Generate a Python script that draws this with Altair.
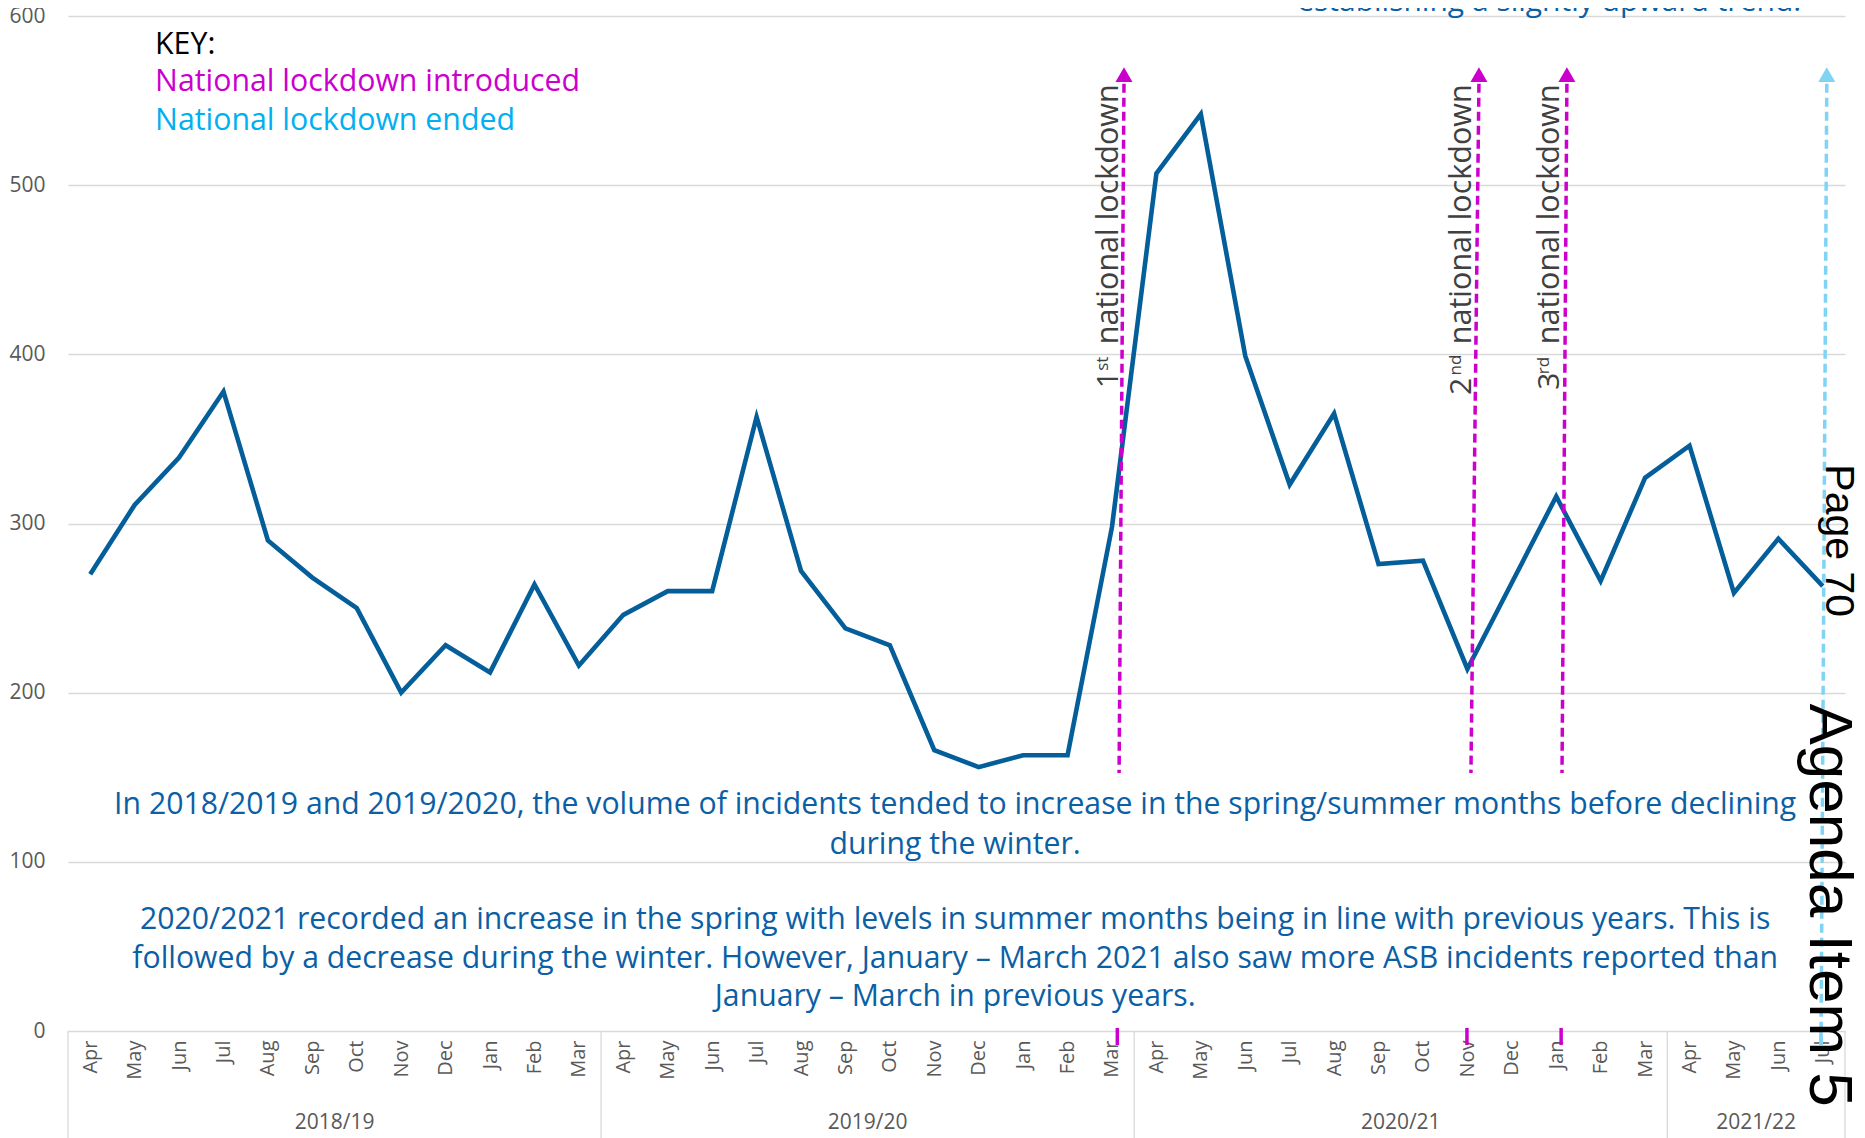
import altair as alt
import pandas as pd

# ---------------- data ----------------
months = ["Apr", "May", "Jun", "Jul", "Aug", "Sep", "Oct", "Nov", "Dec", "Jan", "Feb", "Mar"]
years = ["2018/19", "2019/20", "2020/21", "2021/22"]
year_centers = [5.5, 17.5, 29.5, 37.5]
separators = [-0.5, 11.5, 23.5, 35.5, 39.5]
incidents = [270, 311, 339, 378, 290, 268, 250, 200, 228, 212, 264, 216,
             246, 260, 260, 363, 272, 238, 228, 166, 156, 163, 163, 298,
             507, 542, 399, 323, 365, 276, 278, 214, 265, 316, 266, 327,
             346, 259, 291, 263]

# lockdown markers (x in month-index units, y in incident units)
ld_top_x = [23.27, 31.26, 33.24]
ld_bot_x = [23.16, 31.08, 33.13]
ld_stub_x = [23.12, 30.99, 33.11]
ld_top_y = 560.0
ld_bot_y = 152.5
stub_y = [1.8, -8.3]
end_top_x = 39.09
end_bot_x = 38.96
end_bot_y = -8.3
arrow_y = 565.4

ordinals = ["1", "2", "3"]
sups = ["st", "nd", "rd"]
ord_start = [380, 376, 379]
sup_start = [390.3, 387.5, 388.2]
label_start = 406
label_x = [23.14, 31.08, 33.06]
sup_x = [22.91, 30.85, 32.84]

key_texts = ["KEY:", "National lockdown introduced", "National lockdown ended"]
key_colors = ["#000000", "#CC00CC", "#00B0F0"]
key_y = [583, 561, 538]
key_x = 1.46

body_lines = [
    "In 2018/2019 and 2019/2020, the volume of incidents tended to increase in the spring/summer months before declining",
    "during the winter.",
    "2020/2021 recorded an increase in the spring with levels in summer months being in line with previous years.  This is",
    "followed by a decrease during the winter. However, January \u2013 March 2021 also saw more ASB incidents reported than",
    "January \u2013 March in previous years.",
]
body_y = [133.6, 110, 65.6, 42.6, 20.1]
body_x = 19.47

top_text = "establishing a slightly upward trend."
top_x = 32.84
top_y = 603

W, H = 1777, 1015
BLUE_TXT = "#0B5FA5"
LINE = "#035E9A"
MAG = "#CC00CC"
CYAN = "#7FD3F5"
FONT = "Open Sans"

xs = alt.Scale(domain=[-0.5, 39.5], nice=False, zero=False)
ys = alt.Scale(domain=[0, 600], nice=False)

label_expr = "[" + ",".join("'%s'" % m for m in months) + "][datum.value % 12]"

X_AX = alt.Axis(
    values=list(range(len(incidents))), labelExpr=label_expr, labelAngle=-90,
    labelAlign="right", labelBaseline="middle", labelPadding=9,
    labelFontSize=20, labelFont=FONT, labelColor="#595959",
    labelFlush=False, labelBound=False, labelOverlap=False,
    ticks=False, domain=False, grid=False, title=None)
Y_AX = alt.Axis(
    values=[0, 100, 200, 300, 400, 500, 600], grid=True, gridColor="#D9D9D9",
    gridWidth=1.3, domain=False, ticks=False, labelPadding=23,
    labelFontSize=21, labelFont=FONT, labelColor="#595959", title=None)


def X(f):
    return alt.X(f, scale=xs, axis=X_AX)


def Y(f):
    return alt.Y(f, scale=ys, axis=Y_AX)


df = pd.DataFrame({"idx": list(range(len(incidents))), "value": incidents})

line = alt.Chart(df).mark_line(color=LINE, strokeWidth=4.6).encode(
    x=X("idx:Q"), y=Y("value:Q"))

sep = alt.Chart(pd.DataFrame({"s": separators})).mark_rule(color="#D9D9D9", strokeWidth=1.3).encode(
    x=X("s:Q"), y=alt.value(H), y2=alt.value(H + 112))

yr = alt.Chart(pd.DataFrame({"c": year_centers, "t": years})).mark_text(
    font=FONT, fontSize=21, color="#595959", baseline="middle").encode(
    x=X("c:Q"), y=alt.value(H + 92), text="t:N")

ld = pd.DataFrame({"x1": ld_top_x, "x2": ld_bot_x, "y1": [ld_top_y] * 3, "y2": [ld_bot_y] * 3})
ld_rules = alt.Chart(ld).mark_rule(color=MAG, strokeWidth=3.5, strokeDash=[9, 5]).encode(
    x=X("x1:Q"), x2="x2:Q", y=Y("y1:Q"), y2="y2:Q")

stubs = pd.DataFrame({"x": ld_stub_x + [end_bot_x],
                      "a": [stub_y[0]] * 4, "b": [stub_y[1]] * 4,
                      "c": [MAG, MAG, MAG, CYAN]})
stub_rules = alt.Chart(stubs).mark_rule(strokeWidth=3.5).encode(
    x=X("x:Q"), y=Y("a:Q"), y2="b:Q", color=alt.Color("c:N", scale=None))

end_rule = alt.Chart(pd.DataFrame({"x1": [end_top_x], "x2": [end_bot_x], "y1": [ld_top_y], "y2": [end_bot_y]})).mark_rule(
    color=CYAN, strokeWidth=3.5, strokeDash=[9, 5]).encode(
    x=X("x1:Q"), x2="x2:Q", y=Y("y1:Q"), y2="y2:Q")

arrows = alt.Chart(pd.DataFrame({"x": ld_top_x + [end_top_x], "y": [arrow_y] * 4,
                                 "c": [MAG, MAG, MAG, CYAN]})).mark_point(
    shape="triangle-up", filled=True, size=290, opacity=1).encode(
    x=X("x:Q"), y=Y("y:Q"), color=alt.Color("c:N", scale=None))

lab_main = alt.Chart(pd.DataFrame({"x": label_x, "y": [label_start] * 3,
                                   "t": ["national lockdown"] * 3})).mark_text(
    angle=270, align="left", baseline="alphabetic", font=FONT, fontSize=30.5, color="#404040").encode(
    x=X("x:Q"), y=Y("y:Q"), text="t:N")

lab_ord = alt.Chart(pd.DataFrame({"x": label_x, "y": ord_start, "t": ordinals})).mark_text(
    angle=270, align="left", baseline="alphabetic", font=FONT, fontSize=30, color="#404040").encode(
    x=X("x:Q"), y=Y("y:Q"), text="t:N")

lab_sup = alt.Chart(pd.DataFrame({"x": sup_x, "y": sup_start, "t": sups})).mark_text(
    angle=270, align="left", baseline="alphabetic", font=FONT, fontSize=17, color="#404040").encode(
    x=X("x:Q"), y=Y("y:Q"), text="t:N")

key = alt.Chart(pd.DataFrame({"x": [key_x] * 3, "y": key_y, "t": key_texts, "c": key_colors})).mark_text(
    align="left", baseline="middle", font=FONT, fontSize=30.3).encode(
    x=X("x:Q"), y=Y("y:Q"), text="t:N", color=alt.Color("c:N", scale=None))

body = alt.Chart(pd.DataFrame({"x": [body_x] * 5, "y": body_y, "t": body_lines})).mark_text(
    align="center", baseline="middle", font=FONT, fontSize=30.2, color=BLUE_TXT).encode(
    x=X("x:Q"), y=Y("y:Q"), text="t:N")

top = alt.Chart(pd.DataFrame({"x": [top_x], "y": [top_y], "t": [top_text]})).mark_text(
    align="center", baseline="alphabetic", font=FONT, fontSize=30, color=BLUE_TXT).encode(
    x=X("x:Q"), y=Y("y:Q"), text="t:N")

page = alt.Chart(pd.DataFrame({"x": [39.07, 38.71], "y": [335, 193.6], "t": ["Page 70", "Agenda Item 5"],
                               "s": [41, 62]})).mark_text(
    angle=90, align="left", baseline="alphabetic", font="Liberation Sans", color="#000000").encode(
    x=X("x:Q"), y=Y("y:Q"), text="t:N", size=alt.Size("s:Q", scale=None, legend=None))

chart = alt.layer(
    sep, yr, line, end_rule, ld_rules, stub_rules, arrows,
    lab_main, lab_ord, lab_sup, key, body, top, page
).properties(
    width=W, height=H,
    autosize=alt.AutoSizeParams(type="none"),
    padding={"left": 60, "top": 8, "right": 12, "bottom": 112},
).configure_view(stroke=None)

chart.save("out.html", embed_options={"renderer": "svg", "actions": False})
